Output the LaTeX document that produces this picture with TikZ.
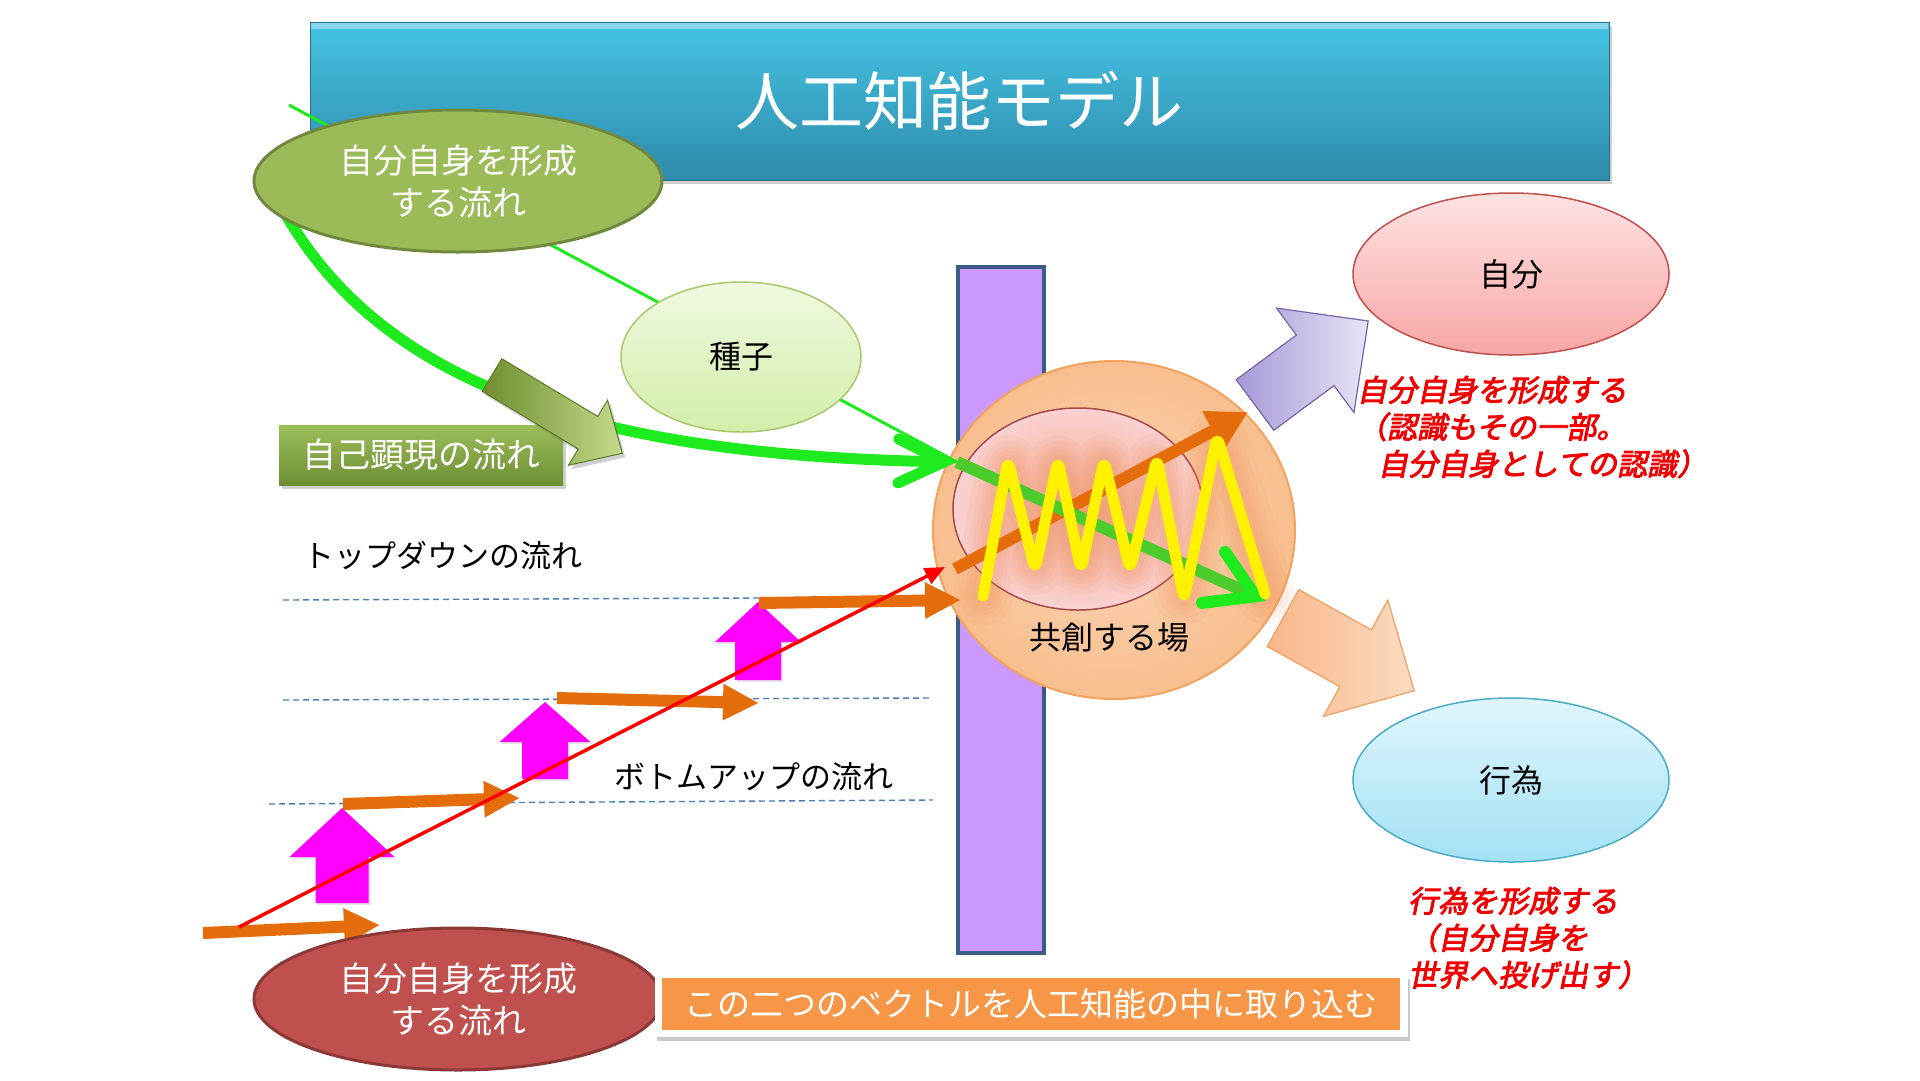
\documentclass[tikz,border=0pt]{standalone}
\usepackage{fontspec}
\setmainfont{Noto Sans CJK JP}
\newfontfamily\redjp[FakeSlant=0.2,FakeBold=3]{Noto Sans CJK JP}
\usetikzlibrary{shapes.geometric,arrows.meta,shadows}

\definecolor{cTitleT}{HTML}{45C3E3}
\definecolor{cTitleB}{HTML}{2F8BAB}
\definecolor{cOlive}{HTML}{9BBB59}
\definecolor{cOliveD}{HTML}{71893F}
\definecolor{cGreen}{HTML}{1EEB1E}
\definecolor{cGreenIn}{HTML}{4CCB2C}
\definecolor{cSeedT}{HTML}{F0F9E0}
\definecolor{cSeedB}{HTML}{D3EEAA}
\definecolor{cSeedD}{HTML}{A9C86E}
\definecolor{cPurp}{HTML}{CC99FF}
\definecolor{cPurpD}{HTML}{3C5A86}
\definecolor{cPeachI}{HTML}{FBD6B6}
\definecolor{cPeachO}{HTML}{F8BE8E}
\definecolor{cPeachD}{HTML}{F2A35E}
\definecolor{cPinkIn}{HTML}{F4A888}
\definecolor{cPinkOut}{HTML}{FAD2D2}
\definecolor{cPinkD}{HTML}{A4484C}
\definecolor{cOrange}{HTML}{E46C0A}
\definecolor{cMag}{HTML}{FF00FF}
\definecolor{cDash}{HTML}{4A7EBB}
\definecolor{cSelfT}{HTML}{FFE2E2}
\definecolor{cSelfB}{HTML}{F7A6A6}
\definecolor{cSelfD}{HTML}{C0504D}
\definecolor{cActT}{HTML}{E0F6FC}
\definecolor{cActB}{HTML}{A2E1F5}
\definecolor{cActD}{HTML}{4BACC6}
\definecolor{cRedE}{HTML}{C0504D}
\definecolor{cRedED}{HTML}{8C3836}
\definecolor{cBoxO}{HTML}{F79646}
\definecolor{cArPurL}{HTML}{A898D8}
\definecolor{cArPurR}{HTML}{EAE4F6}
\definecolor{cArPurD}{HTML}{7464A8}
\definecolor{cArOrL}{HTML}{F9B68A}
\definecolor{cArOrR}{HTML}{FCDCC2}
\definecolor{cArOrD}{HTML}{F0A060}
\definecolor{cArGrL}{HTML}{6F8E2E}
\definecolor{cArGrR}{HTML}{C4DA8C}
\definecolor{cArGrD}{HTML}{5E7A28}
\definecolor{cLblT}{HTML}{9CBE5A}
\definecolor{cLblB}{HTML}{6E8E34}
\definecolor{cRedTxt}{HTML}{F00000}
\definecolor{cGlow}{HTML}{F08A50}

\newcommand\blkarrow[8]{%
  \path[#1,shift={(#2,#3)},rotate=#4]
    (0,{-#6/2}) -- ({#5-#8},{-#6/2}) -- ({#5-#8},{-#7/2}) -- (#5,0)
    -- ({#5-#8},{#7/2}) -- ({#5-#8},{#6/2}) -- (0,{#6/2}) -- cycle;}
\newcommand\zigpath{(983,596) -- (1008,460) -- (1035,570) -- (1058,460) -- (1081,570) -- (1104,460)
  -- (1130,570) -- (1157,458) -- (1184,600) -- (1217,436) -- (1265,594)}

\begin{document}
\begin{tikzpicture}[x=1pt,y=-1pt,
  every node/.style={inner sep=0pt,outer sep=0pt},
  softshadow/.style={drop shadow={shadow xshift=3pt,shadow yshift=-4pt,opacity=.3,fill=black!60}},
  bigell/.style={ellipse,minimum width=408pt,minimum height=142pt,line width=3pt,
     text=white,align=center,font=\fontsize{34}{42}\selectfont},
  smallell/.style={ellipse,line width=1.5pt,font=\fontsize{32}{36}\selectfont,text=black},
  blacklbl/.style={font=\fontsize{31}{36}\selectfont,text=black,anchor=west},
  redlbl/.style={font=\fontsize{30}{37}\redjp,text=cRedTxt,anchor=west,align=left},
  stairarrow/.style={draw=cOrange,line width=12pt,-{Triangle[length=36pt,width=34pt]}},
  dashline/.style={draw=cDash,line width=1.4pt,dash pattern=on 6pt off 4pt},
  zigline/.style={line join=round,line cap=round,rounded corners=9pt},
  glowline/.style={zigline,draw=cGlow,opacity=.07},
]
\useasboundingbox[fill=white] (0,0) rectangle (1920,1080);

% title
\node[minimum width=1299pt,minimum height=158pt,top color=cTitleT,bottom color=cTitleB,
      draw=cTitleB!80!black,line width=1pt,softshadow,text=white,
      font=\fontsize{64}{70}\selectfont] (title) at (959.5,101) {人工知能モデル};
\fill[cTitleT!40!white,opacity=.6] (311,23) rectangle (1608,29);

% purple wall
\node[minimum width=86pt,minimum height=686pt,fill=cPurp,draw=cPurpD,line width=4pt] (wall) at (1001,610) {};

% co-creation field
\node[ellipse,minimum width=362pt,minimum height=338pt,inner color=cPeachI,outer color=cPeachO,
      draw=cPeachD,line width=2pt] (field) at (1114,530) {};
\node[ellipse,minimum width=250pt,minimum height=202pt,inner color=cPinkIn,outer color=cPinkOut,
      draw=cPinkD,line width=1.5pt] (inner) at (1078,509) {};
\node[font=\fontsize{32}{36}\selectfont,text=black] (fieldtxt) at (1109,638) {共創する場};

% soft glow around zigzag
\draw[glowline,line width=60pt] \zigpath;
\draw[glowline,line width=48pt] \zigpath;
\draw[glowline,line width=38pt] \zigpath;
\draw[glowline,line width=30pt] \zigpath;
\draw[glowline,line width=22pt] \zigpath;

% connectors inside the field
\coordinate (meet) at (957,462);
\coordinate (grE) at (1266,601);
\coordinate (orS) at (955,569);
\coordinate (orE) at (1248,412);
\draw[cOrange,line width=12pt,-{Triangle[length=40pt,width=42pt]}] (orS) -- (orE);
\draw[cGreenIn,line width=12pt,line cap=butt,
      -{Straight Barb[length=46pt,width=56pt,line cap=round,color=cGreen]}] (meet) -- (grE);

% yellow zigzag
\draw[zigline,yellow,line width=11pt] \zigpath;

% green flows
\coordinate (thinS) at (289,105);
\coordinate (curveS) at (275,195);
\draw[cGreen,line width=3pt] (thinS) -- (meet);
\draw[cGreen,line width=11pt,-{Straight Barb[length=46pt,width=44pt,line cap=round]}]
  (curveS) .. controls (365,370) and (560,455) .. (meet);

% top green ellipse
\node[bigell,fill=cOlive,draw=cOliveD] (selfTop) at (458,181) {自分自身を形成\\する流れ};

% seed
\node[smallell,minimum width=240pt,minimum height=150pt,top color=cSeedT,bottom color=cSeedB,
      draw=cSeedD] (seed) at (741,357) {種子};

% self-manifestation label and arrow
\node[minimum width=284pt,minimum height=60pt,top color=cLblT,bottom color=cLblB,softshadow,
      text=white,font=\fontsize{34}{38}\selectfont] (manif) at (421,455) {自己顕現の流れ};
\blkarrow{left color=cArGrL,right color=cArGrR,draw=cArGrD,line width=1pt,softshadow}{492}{375}{-31}{152}{38}{76}{40}

% dashed levels
\coordinate (d1a) at (283,600); \coordinate (d1b) at (759,598);
\coordinate (d2a) at (283,700); \coordinate (d2b) at (931,698);
\coordinate (d3a) at (269,804); \coordinate (d3b) at (933,800);
\draw[dashline] (d1a) -- (d1b);
\draw[dashline] (d2a) -- (d2b);
\draw[dashline] (d3a) -- (d3b);

\node[blacklbl] (topdown) at (303,556) {トップダウンの流れ};
\node[blacklbl] (bottomup) at (614,777) {ボトムアップの流れ};

% magenta up arrows
\blkarrow{fill=cMag,drop shadow={shadow xshift=2pt,shadow yshift=-2pt,opacity=.2}}{342}{903}{90}{95}{53}{105}{49}
\blkarrow{fill=cMag,drop shadow={shadow xshift=2pt,shadow yshift=-2pt,opacity=.2}}{545}{779}{90}{77}{46}{91}{40}
\blkarrow{fill=cMag,drop shadow={shadow xshift=2pt,shadow yshift=-2pt,opacity=.2}}{758}{680}{90}{78}{46}{86}{40}

% orange stair arrows
\coordinate (o1s) at (203,933); \coordinate (o1e) at (380,925);
\coordinate (o2s) at (343,804); \coordinate (o2e) at (520,798);
\coordinate (o3s) at (557,698); \coordinate (o3e) at (759,703);
\coordinate (o4s) at (759,603); \coordinate (o4e) at (961,600);
\draw[stairarrow] (o1s) -- (o1e);
\draw[stairarrow] (o2s) -- (o2e);
\draw[stairarrow] (o3s) -- (o3e);
\draw[stairarrow] (o4s) -- (o4e);

% red diagonal
\coordinate (redS) at (239,927);
\coordinate (redE) at (945,567);
\draw[red,line width=3.5pt,-{Triangle[length=20pt,width=17pt]}] (redS) -- (redE);

% bottom red ellipse
\node[bigell,fill=cRedE,draw=cRedED] (selfBot) at (458,999) {自分自身を形成\\する流れ};

% bottom box
\node[fill=white,minimum width=753pt,minimum height=62pt,
      drop shadow={shadow xshift=2pt,shadow yshift=-4pt,opacity=.35,fill=black!60}] (boxW) at (1031.5,1006) {};
\node[fill=cBoxO,minimum width=738pt,minimum height=52pt,text=white,
      font=\fontsize{33}{38}\selectfont] (vecbox) at (1031,1004) {この二つのベクトルを人工知能の中に取り込む};

% right side
\node[smallell,minimum width=316pt,minimum height=162pt,top color=cSelfT,bottom color=cSelfB,
      draw=cSelfD] (self) at (1511,274) {自分};
\node[smallell,minimum width=316pt,minimum height=164pt,top color=cActT,bottom color=cActB,
      draw=cActD] (act) at (1511,780) {行為};

\blkarrow{left color=cArPurL,right color=cArPurR,draw=cArPurD,line width=1.2pt}{1255}{405}{36.6}{141}{63}{130}{66}
\blkarrow{left color=cArOrL,right color=cArOrR,draw=cArOrD,line width=1.2pt}{1283}{618}{-29}{150}{65}{133}{67}

\node[redlbl] (selfnote) at (1357,427) {自分自身を形成する\\（認識もその一部。\\\hspace*{21pt}自分自身としての認識）};
\node[redlbl] (actnote) at (1408,938) {行為を形成する\\（自分自身を\\世界へ投げ出す）};
\end{tikzpicture}
\end{document}
